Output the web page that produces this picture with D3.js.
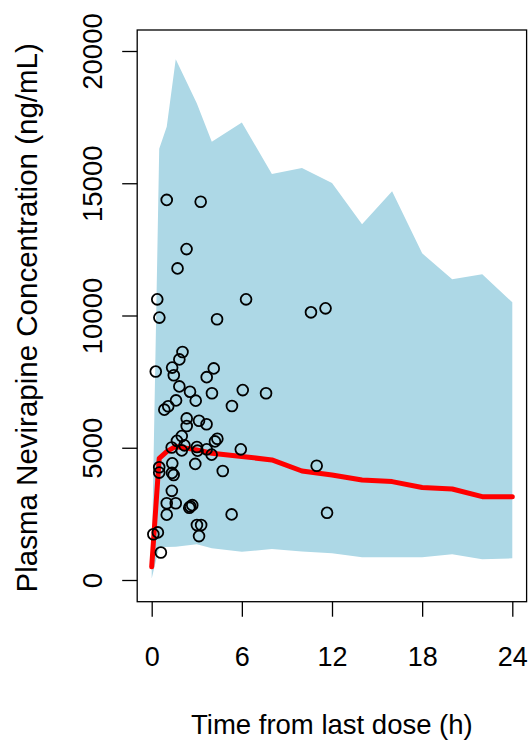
<!DOCTYPE html>
<html>
<head>
<meta charset="utf-8">
<script src="https://cdn.jsdelivr.net/npm/d3@7"></script>
<style>
  html, body { margin: 0; padding: 0; background: #fff; }
  svg { display: block; }
  text { font-family: "Liberation Sans", Arial, Helvetica, sans-serif; fill: #000; }
</style>
</head>
<body>
<svg id="chart" width="528" height="743"></svg>
<script>
// Observed concentrations: time (h) and concentration (ng/mL)
const obsTime = [1.00, 3.26, 2.32, 1.72, 0.37, 6.28, 0.51, 4.35, 10.60, 11.57,
  2.05, 1.84, 0.27, 1.36, 1.47, 4.13, 3.66, 1.84, 2.55, 4.01,
  6.06, 7.61, 2.93, 1.62, 1.10, 0.84, 5.34, 2.33, 3.15, 3.65,
  2.33, 2.00, 1.68, 4.37, 4.21, 1.33, 2.00, 2.18, 3.01, 3.05,
  3.66, 3.99, 5.93, 2.90, 1.37, 0.50, 0.50, 1.35, 1.46, 4.73,
  10.98, 1.34, 1.00, 1.60, 2.57, 2.70, 2.50, 5.32, 1.00, 3.01,
  3.29, 3.15, 0.41, 0.11, 0.61, 11.67];
const obsConc = [14370, 14300, 12510, 11780, 10610, 10610, 9920, 9860, 10120, 10270,
  8620, 8340, 7880, 8030, 7740, 8000, 7670, 7320, 7120, 7060,
  7180, 7060, 6780, 6790, 6570, 6440, 6580, 6110, 6020, 5890,
  5820, 5440, 5260, 5340, 5240, 5010, 4900, 5090, 5030, 4890,
  4940, 4740, 4940, 4390, 4410, 4260, 4060, 4050, 3970, 4120,
  4320, 3370, 2900, 2900, 2780, 2830, 2730, 2480, 2470, 2080,
  2080, 1660, 1800, 1730, 1040, 2540];

// Simulated prediction interval and median
const predTime  = [0, 0.5, 1, 1.6, 3, 4, 6, 8, 10, 12, 14, 16, 18, 20, 22, 24];
const predLower = [60, 1250, 1250, 1260, 1350, 1200, 1070, 1170, 1080, 1010, 860, 860, 860, 970, 780, 820];
const predUpper = [700, 16300, 17140, 19690, 18020, 16570, 17300, 15350, 15580, 15010, 13450, 14700, 12350, 11370, 11560, 10500];
const predMedian = [500, 4600, 4850, 5050, 4920, 4790, 4670, 4540, 4120, 3970, 3780, 3720, 3500, 3440, 3150, 3150];

const xTicks = [0, 6, 12, 18, 24];
const yTicks = [0, 5000, 10000, 15000, 20000];

const svg = d3.select("#chart");
const x = d3.scaleLinear().domain([0, 24]).range([151.7, 512.3]);
const y = d3.scaleLinear().domain([0, 20000]).range([580, 51]);

const frame = {left: 137.2, right: 526.6, top: 30, bottom: 601.7};

// band
const band = predTime.map((t, i) => ({t, lo: predLower[i], hi: predUpper[i], med: predMedian[i]}));
svg.append("path")
  .datum(band)
  .attr("fill", "#ADD8E6")
  .attr("d", d3.area().x(d => x(d.t)).y0(d => y(d.lo)).y1(d => y(d.hi)));

// median line
svg.append("path")
  .datum(band)
  .attr("fill", "none")
  .attr("stroke", "#FF0000")
  .attr("stroke-width", 5)
  .attr("stroke-linejoin", "round")
  .attr("stroke-linecap", "round")
  .attr("d", d3.line().x(d => x(d.t)).y(d => y(d.med)));

// observations
svg.append("g").selectAll("circle")
  .data(obsTime.map((t, i) => ({t, c: obsConc[i]})))
  .join("circle")
  .attr("cx", d => x(d.t))
  .attr("cy", d => y(d.c))
  .attr("r", 5.4)
  .attr("fill", "none")
  .attr("stroke", "#000")
  .attr("stroke-width", 1.8);

// frame
svg.append("rect")
  .attr("x", frame.left).attr("y", frame.top)
  .attr("width", frame.right - frame.left).attr("height", frame.bottom - frame.top)
  .attr("fill", "none").attr("stroke", "#000").attr("stroke-width", 1.3);

// x axis
const xAxis = d3.axisBottom(x).tickValues(xTicks).tickSize(15).tickPadding(30).tickFormat(d3.format("d"));
const gx = svg.append("g").attr("transform", `translate(0,${frame.bottom})`).call(xAxis);
gx.select(".domain").remove();
gx.selectAll(".tick line").attr("stroke", "#000").attr("stroke-width", 1.3);
gx.selectAll(".tick text").attr("font-size", 27).attr("font-family", '"Liberation Sans", Arial, sans-serif');

// y axis
const yAxis = d3.axisLeft(y).tickValues(yTicks).tickSize(15).tickFormat(d3.format("d"));
const gy = svg.append("g").attr("transform", `translate(${frame.left},0)`).call(yAxis);
gy.select(".domain").remove();
gy.selectAll(".tick line").attr("stroke", "#000").attr("stroke-width", 1.3);
gy.selectAll(".tick text")
  .attr("font-size", 27.5)
  .attr("font-family", '"Liberation Sans", Arial, sans-serif')
  .attr("text-anchor", "middle")
  .attr("dy", null)
  .attr("x", null)
  .attr("transform", "translate(-35,0) rotate(-90)");

// titles
svg.append("text")
  .attr("x", (frame.left + frame.right) / 2)
  .attr("y", 734)
  .attr("text-anchor", "middle")
  .attr("font-size", 27.5)
  .text("Time from last dose (h)");

svg.append("text")
  .attr("transform", `translate(37,${(frame.top + frame.bottom) / 2 + 2}) rotate(-90)`)
  .attr("text-anchor", "middle")
  .attr("font-size", 29.5)
  .text("Plasma Nevirapine Concentration (ng/mL)");
</script>
</body>
</html>
